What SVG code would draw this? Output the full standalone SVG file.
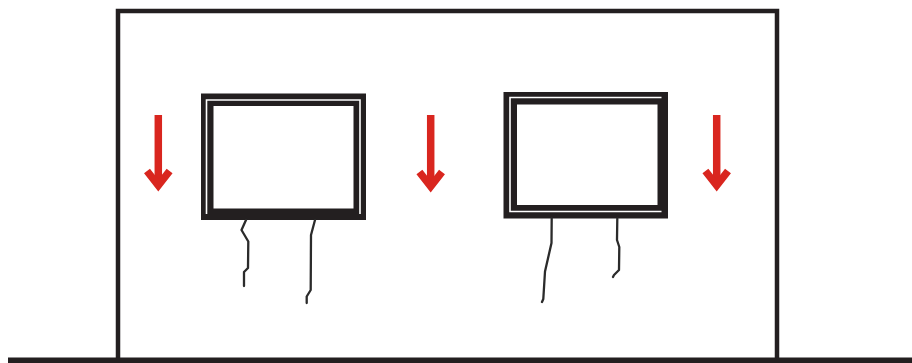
<svg xmlns="http://www.w3.org/2000/svg" width="912" height="363" viewBox="0 0 912 363">
<style>
.blk{fill:#231f20}
.open{fill:#fff}
.hl{fill:none;stroke:#fff;stroke-width:1.6}
.wire{fill:none;stroke:#2b2b2b;stroke-width:2.3;stroke-linejoin:round;stroke-linecap:round}
.arr{fill:none;stroke:#d9261f;stroke-width:7.5}
</style>
<rect width="912" height="363" fill="#fff"/>
<g id="house">
<path d="M118,358 V11 H777 V358" fill="none" stroke="#231f20" stroke-width="4.5"/>
</g>
<g id="ground">
<rect x="8" y="357.5" width="904" height="6" class="blk"/>
</g>
<g id="window1">
<rect x="201" y="93.5" width="165" height="126.5" class="blk"/>
<rect x="213.5" y="106" width="140" height="102.5" class="open"/>
<path d="M206.5,214 V100 H360 V214" class="hl"/>
</g>
<g id="window2">
<rect x="503.5" y="92" width="164.5" height="126.5" class="blk"/>
<rect x="517" y="104.5" width="140.5" height="100.5" class="open"/>
<path d="M661.5,97.5 H510 V211.5 H661.5" class="hl"/>
</g>
<g id="connectors">
<path d="M246,220 L241.5,230 L248.3,241.5 L248,268 L244,272 L244,286" class="wire"/>
<path d="M315,220 L311,235 L310.7,290 L306.7,296.5 L306.7,303" class="wire"/>
<path d="M551.7,218.5 L551.5,243 L545,271.5 L543.3,299 L542,302" class="wire"/>
<path d="M617.3,218.5 L617,240 L619.3,247 L619,270 L614,275 L613,277" class="wire"/>
</g>
<g id="arrows">
<g id="arrow1"><path d="M158.3,115 V185" class="arr"/><path d="M147,171 L158.3,185.5 L169.6,171" class="arr"/></g>
<g id="arrow2"><path d="M430.7,115 V186" class="arr"/><path d="M419.4,172 L430.7,186.5 L442,172" class="arr"/></g>
<g id="arrow3"><path d="M716.7,115 V185" class="arr"/><path d="M705.4,171 L716.7,185.5 L728,171" class="arr"/></g>
</g>
</svg>
